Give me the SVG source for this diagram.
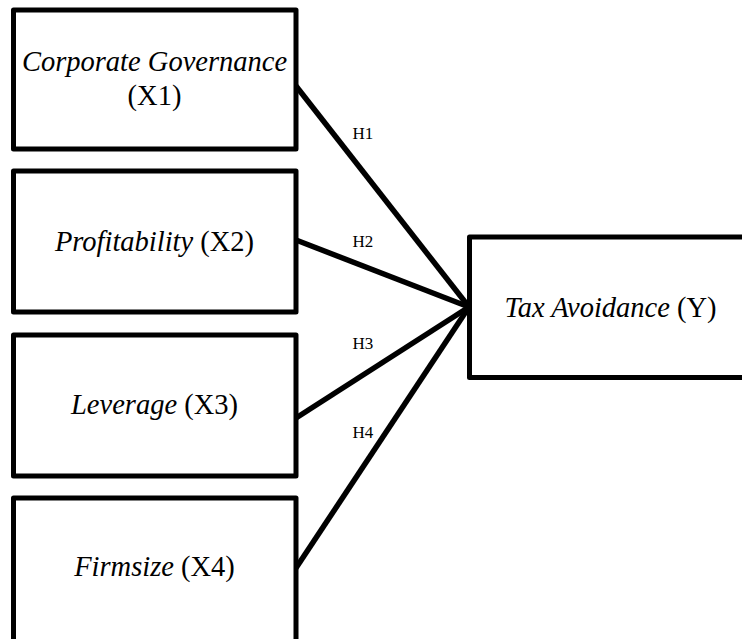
<svg xmlns="http://www.w3.org/2000/svg" width="742" height="639" viewBox="0 0 742 639">
<style>
.box{fill:#fff;stroke:#000;stroke-width:5;stroke-linejoin:round}
.ln{stroke:#000;stroke-width:5.5;fill:none;stroke-linecap:butt}
.t{font-family:"Liberation Serif","Times New Roman",serif;font-size:28.5px;fill:#000;text-anchor:middle}
.i{font-style:italic}
.h{font-family:"Liberation Serif","Times New Roman",serif;font-size:17px;fill:#000}
</style>
<rect width="742" height="639" fill="#fff"/>
<g id="connectors">
<line class="ln" x1="296" y1="86" x2="469" y2="307"/>
<line class="ln" x1="296" y1="240" x2="469" y2="307"/>
<line class="ln" x1="296" y1="418" x2="469" y2="307"/>
<line class="ln" x1="296" y1="568" x2="469" y2="307"/>
<text class="h" x="352.5" y="139">H1</text>
<text class="h" x="352.5" y="247">H2</text>
<text class="h" x="352.5" y="349">H3</text>
<text class="h" x="352.5" y="438">H4</text>
</g>
<g id="x1">
<rect class="box" x="13.5" y="10" width="282.5" height="139"/>
<text class="t i" x="154.5" y="71">Corporate Governance</text>
<text class="t" x="154.5" y="105">(X1)</text>
</g>
<g id="x2">
<rect class="box" x="13.5" y="171" width="282.5" height="141"/>
<text class="t" x="154.5" y="251"><tspan class="i">Profitability</tspan> (X2)</text>
</g>
<g id="x3">
<rect class="box" x="13.5" y="335" width="282.5" height="141"/>
<text class="t" x="154.5" y="414"><tspan class="i">Leverage</tspan> (X3)</text>
</g>
<g id="x4">
<rect class="box" x="13.5" y="498" width="282.5" height="160"/>
<text class="t" x="154.5" y="576"><tspan class="i">Firmsize</tspan> (X4)</text>
</g>
<g id="y">
<rect class="box" x="469.5" y="237" width="300" height="140.5"/>
<text class="t" x="610.5" y="317"><tspan class="i">Tax Avoidance</tspan> (Y)</text>
</g>
</svg>
